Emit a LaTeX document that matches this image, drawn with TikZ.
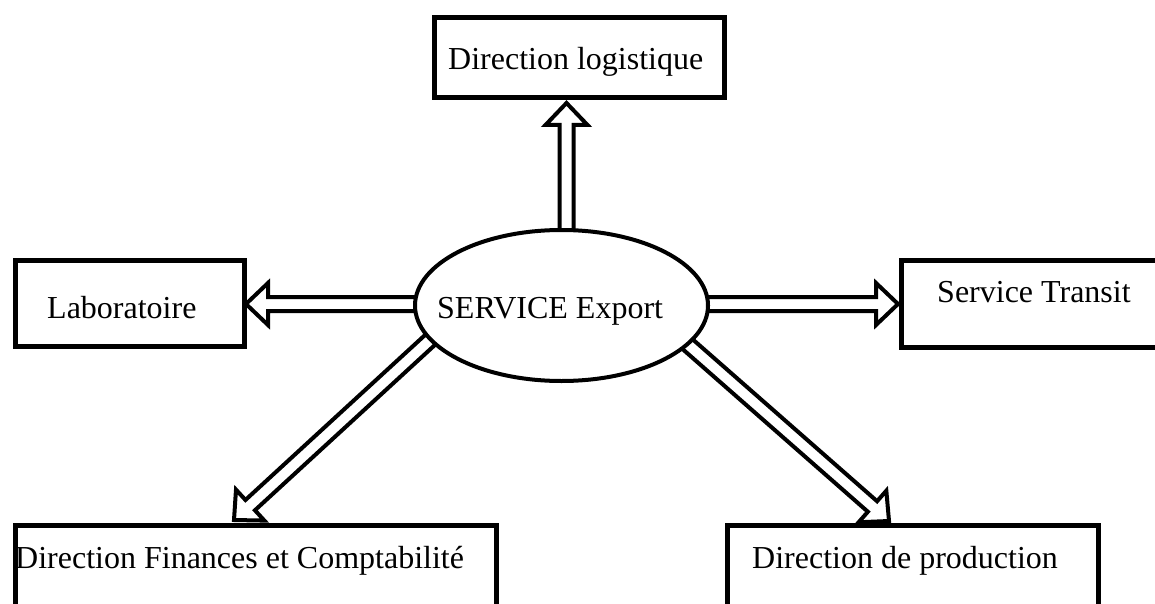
\documentclass[tikz,border=0pt]{standalone}
\usepackage{fontspec}
\setmainfont{Liberation Serif}
\usetikzlibrary{calc,shapes.geometric}
\pgfdeclarelayer{paper}
\pgfdeclarelayer{arrows}
\pgfsetlayers{paper,arrows,main}

\tikzset{
  box/.style={draw, line width=5pt, fill=white, rectangle, inner sep=0pt},
  hub/.style={draw, line width=4pt, fill=white, ellipse, inner sep=0pt,
    minimum width=293pt, minimum height=151pt},
  lbl/.style={font=\fontsize{32}{36}\selectfont, inner sep=0pt, anchor=base west},
  hollow/.style={draw, line width=4pt, fill=white, line join=miter},
}

% hollow block arrow: #1 start (hidden under the hub), #2 tip
\newcommand\blockarrow[2]{%
  \path
    let \p0=($(#2)!22pt!(#1)$) in
    coordinate (h) at (\p0);
  \draw[hollow]
    ($(#1)!7pt!90:(#2)$) -- ($(h)!7pt!90:(#2)$) -- ($(h)!21pt!90:(#2)$)
    -- (#2)
    -- ($(h)!21pt!-90:(#2)$) -- ($(h)!7pt!-90:(#2)$) -- ($(#1)!7pt!-90:(#2)$)
    -- cycle;
}

\begin{document}
\begin{tikzpicture}[x=1pt,y=-1pt]
  \clip (0,0) rectangle (1155,604);
  \begin{pgfonlayer}{paper}
    \fill[white] (0,0) rectangle (1155,604);
  \end{pgfonlayer}

  % boxes
  \draw[box] (434.5,17.5) rectangle (724.5,97.5);
  \node[inner sep=0pt] (logi) at (579.5,57.5) {};
  \draw[box] (15.5,260.5) rectangle (244.5,346.5);
  \node[inner sep=0pt] (labo) at (130,303.5) {};
  \draw[box] (901.5,260.5) rectangle (1175,347.5);
  \node[inner sep=0pt] (trans) at (1030,304) {};
  \draw[box] (15.5,525.5) rectangle (496.5,625);
  \node[inner sep=0pt] (fin) at (256,570) {};
  \draw[box] (727.5,525.5) rectangle (1098.5,625);
  \node[inner sep=0pt] (prod) at (913,570) {};

  % hub
  \node[hub] (hub) at (561.5,305.5) {};

  % texts
  \node[lbl] (tlogi)  at (448,70)  {Direction logistique};
  \node[lbl] (tlabo)  at (47,318)  {Laboratoire};
  \node[lbl] (ttrans) at (937,302) {Service Transit};
  \node[lbl] (tfin)   at (15,568)  {Direction Finances et Comptabilit\'e};
  \node[lbl] (tprod)  at (752,568) {Direction de production};
  \node[lbl] (thub)   at (437,318) {SERVICE Export};

  % arrow ends
  \coordinate (s1) at (566.5,270);  \coordinate (e1) at (566.5,103);
  \coordinate (s2) at (450,304);    \coordinate (e2) at (246,304);
  \coordinate (s3) at (680,304);    \coordinate (e3) at (898,304);
  \coordinate (s4) at (455,317);    \coordinate (e4) at (234,520);
  \coordinate (s5) at (668,327);    \coordinate (e5) at (889,521);

  \begin{pgfonlayer}{arrows}
    \blockarrow{s1}{e1}
    \blockarrow{s2}{e2}
    \blockarrow{s3}{e3}
    \blockarrow{s4}{e4}
    \blockarrow{s5}{e5}
  \end{pgfonlayer}
\end{tikzpicture}
\end{document}
